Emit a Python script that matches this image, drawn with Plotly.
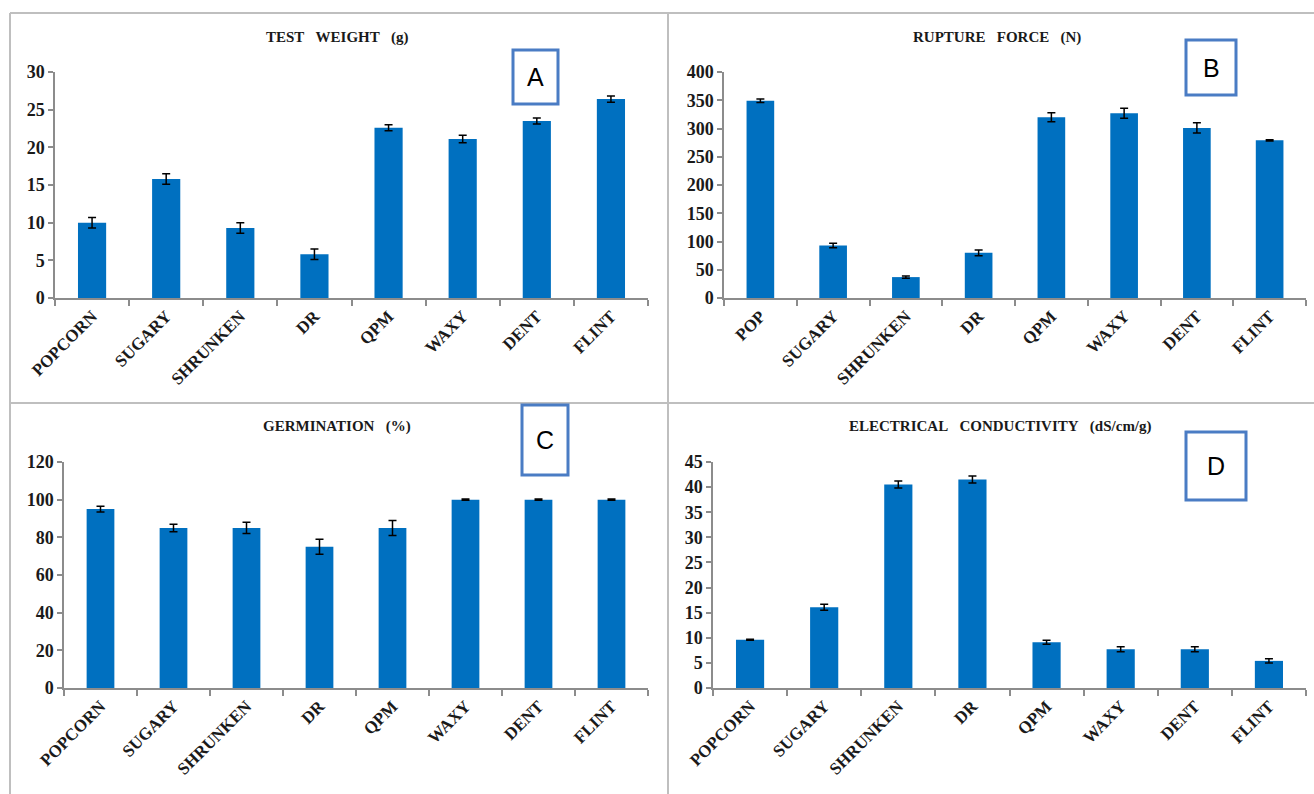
import plotly.graph_objects as go

W, H = 1314, 794

cats_a = ["POPCORN", "SUGARY", "SHRUNKEN", "DR", "QPM", "WAXY", "DENT", "FLINT"]
cats_b = ["POP", "SUGARY", "SHRUNKEN", "DR", "QPM", "WAXY", "DENT", "FLINT"]

test_weight = [10.0, 15.8, 9.3, 5.8, 22.6, 21.1, 23.5, 26.4]
test_weight_err = [0.7, 0.7, 0.7, 0.7, 0.4, 0.5, 0.4, 0.4]

rupture_force = [349, 93, 37, 80, 320, 327, 301, 279]
rupture_force_err = [3, 4, 2, 5, 8, 9, 9, 1]

germination = [95, 85, 85, 75, 85, 100, 100, 100]
germination_err = [1.5, 2, 3, 4, 4, 0.3, 0.3, 0.3]

ec = [9.6, 16.1, 40.5, 41.5, 9.1, 7.7, 7.7, 5.4]
ec_err = [0.1, 0.6, 0.7, 0.7, 0.4, 0.5, 0.5, 0.4]

SP = "\u00a0\u00a0\u00a0"
titles = ["TEST" + SP + "WEIGHT" + SP + "(g)",
          "RUPTURE" + SP + "FORCE" + SP + "(N)",
          "GERMINATION" + SP + "(%)",
          "ELECTRICAL" + SP + "CONDUCTIVITY" + SP + "(dS/cm/g)"]
letters = ["A", "B", "C", "D"]

BAR = "#0070C0"
AX = "#8c8c8c"
SERIF = "Liberation Serif"

def px_x(p):
    return p / W

def px_y(p):
    return 1 - p / H

# panel geometry in pixels: (x0, x1, y_top, y_bottom)
panels = [
    (55, 648, 72, 298),
    (724, 1306, 72, 298),
    (64, 648, 462, 688),
    (713, 1306, 462, 688),
]
ranges = [(0, 30, 5), (0, 400, 50), (0, 120, 20), (0, 45, 5)]
datasets = [
    (cats_a, test_weight, test_weight_err),
    (cats_b, rupture_force, rupture_force_err),
    (cats_a, germination, germination_err),
    (cats_a, ec, ec_err),
]
title_pos = [(337, 38), (997, 38), (337, 426), (1000, 426)]
box_pos = [(513, 50, 558, 104), (1186, 40, 1236, 95), (522, 405, 568, 475), (1186, 432, 1246, 500)]

fig = go.Figure()
annotations = []
shapes = []

for i, ((cats, vals, errs), (x0, x1, yt, yb), (r0, r1, dt)) in enumerate(zip(datasets, panels, ranges)):
    n = "" if i == 0 else str(i + 1)
    fig.add_trace(go.Bar(
        x=cats, y=vals,
        error_y=dict(type="data", array=errs, visible=True, color="black", thickness=1.5, width=4),
        marker=dict(color=BAR, line=dict(width=0)),
        xaxis="x" + n, yaxis="y" + n, showlegend=False,
    ))
    fig.layout["xaxis" + n] = dict(
        domain=[px_x(x0), px_x(x1)], anchor="y" + n, automargin=False,
        showline=True, linecolor=AX, linewidth=1.5,
        ticks="outside", ticklen=6, tickcolor=AX, tickwidth=1.5,
        tickson="boundaries", tickangle=-45,
        tickfont=dict(family=SERIF, size=17, color="#1a1a1a", weight="bold"),
        showgrid=False, zeroline=False, fixedrange=True,
    )
    fig.layout["yaxis" + n] = dict(
        domain=[px_y(yb), px_y(yt)], anchor="x" + n, automargin=False,
        range=[r0, r1], dtick=dt, tick0=0,
        showline=True, linecolor=AX, linewidth=1.5,
        ticks="outside", ticklen=5, tickcolor=AX, tickwidth=1.5,
        tickfont=dict(family=SERIF, size=18, color="#1a1a1a", weight="bold"),
        showgrid=False, zeroline=False, fixedrange=True,
    )
    tx, ty = title_pos[i]
    annotations.append(dict(
        text=titles[i], x=px_x(tx), y=px_y(ty),
        xref="paper", yref="paper", showarrow=False,
        font=dict(family=SERIF, size=15, color="#1a1a1a", weight="bold"),
        xanchor="center", yanchor="middle",
    ))
    bx0, by0, bx1, by1 = box_pos[i]
    shapes.append(dict(
        type="rect", xref="paper", yref="paper",
        x0=px_x(bx0), x1=px_x(bx1), y0=px_y(by1), y1=px_y(by0),
        line=dict(color="#4a7cc4", width=3), fillcolor="white", layer="above",
    ))
    annotations.append(dict(
        text=letters[i], x=px_x((bx0 + bx1) / 2), y=px_y((by0 + by1) / 2),
        xref="paper", yref="paper", showarrow=False,
        font=dict(family="Liberation Sans", size=25, color="black"),
        xanchor="center", yanchor="middle",
    ))

# frame lines
FR = "#bfbfbf"
for (a, b, c, d) in [(10, 13, 1314, 13), (10, 13, 10, 794), (668, 13, 668, 794), (10, 403, 1314, 403)]:
    shapes.append(dict(type="line", xref="paper", yref="paper",
                       x0=px_x(a), y0=px_y(b), x1=px_x(c), y1=px_y(d),
                       line=dict(color=FR, width=2), layer="below"))

fig.update_layout(
    width=W, height=H,
    margin=dict(l=0, r=0, t=0, b=0),
    paper_bgcolor="white", plot_bgcolor="white",
    bargap=0.62,
    annotations=annotations, shapes=shapes,
)

fig.write_html("out.html", config={"displayModeBar": False})
